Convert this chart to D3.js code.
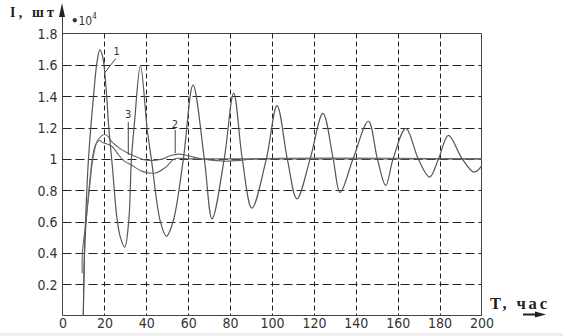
<!DOCTYPE html>
<html>
<head>
<meta charset="utf-8">
<script src="https://cdn.jsdelivr.net/npm/d3@7"></script>
<style>
  html, body { margin: 0; padding: 0; background: #fff; }
  svg { display: block; }
</style>
</head>
<body>
<svg id="chart" width="563" height="336"></svg>
<script>
// ---- data ----
const xTicks = [0, 20, 40, 60, 80, 100, 120, 140, 160, 180, 200];
const yTicks = [0.2, 0.4, 0.6, 0.8, 1.0, 1.2, 1.4, 1.6, 1.8];
const yTickLabels = ["0.2", "0.4", "0.6", "0.8", "1", "1.2", "1.4", "1.6", "1.8"];

// curve 1: strongly oscillating
const curve1T = [9.9, 10.4, 11, 12.4, 14.8, 16.5, 17.8, 19.2, 20.8, 22.1, 23.8, 26, 27.6, 29.7, 31.6, 32.9, 34.3, 37.2, 40.5, 42.4, 46.7, 49.6, 52.8, 57.7, 62.3, 67.7, 71.4, 77.2, 81.7, 85.8, 90.4, 97.3, 102.4, 107.3, 111.9, 118.2, 124.3, 129.2, 132.5, 138.7, 146, 150.3, 154.3, 157.8, 163.9, 169.8, 175.2, 179.5, 184.2, 190.8, 196.5, 200];
const curve1V = [0, 0.35, 0.6, 1.0, 1.4, 1.62, 1.695, 1.65, 1.45, 1.2, 0.95, 0.62, 0.5, 0.436, 0.6, 1.0, 1.22, 1.595, 1.18, 1.0, 0.6, 0.506, 0.6, 1.0, 1.47, 1.0, 0.617, 1.0, 1.42, 1.0, 0.685, 1.0, 1.34, 1.0, 0.745, 1.0, 1.29, 1.0, 0.785, 1.0, 1.24, 1.0, 0.83, 1.0, 1.195, 1.0, 0.883, 1.0, 1.15, 1.0, 0.915, 0.953];

// curve 2: smooth, higher first peak, small hump near 55
const curve2T = [10, 10.4, 11.3, 12.8, 14.5, 16.5, 18.5, 20.2, 22, 23.7, 27, 30, 34.8, 39.6, 44, 48, 51, 55.5, 60, 66, 72, 78, 85, 92, 200];
const curve2V = [0, 0.35, 0.6, 0.8, 1.0, 1.11, 1.145, 1.155, 1.14, 1.106, 1.07, 1.045, 1.015, 0.993, 0.99, 1.0, 1.018, 1.03, 1.02, 1.0, 0.99, 0.985, 0.99, 1.0, 1.0];

// curve 3: smooth, earlier lower peak, dip near 44
const curve3T = [9.4, 9.5, 11.2, 12.6, 14.2, 15.8, 17.7, 19, 21, 23.5, 26, 29, 33.3, 38, 44.4, 49.2, 53.5, 60, 200];
const curve3V = [0.27, 0.4, 0.6, 0.8, 1.0, 1.09, 1.117, 1.105, 1.096, 1.08, 1.04, 0.99, 0.957, 0.92, 0.91, 0.946, 1.0, 1.0, 1.0];

// curve labels: text, label position (T, value), leader start and end (T, value)
const labelNames = ["1", "3", "2"];
const labelT = [25.8, 31.3, 53.6];
const labelV = [1.665, 1.26, 1.2];
const leaderFromT = [25.4, 31.4, 53.8];
const leaderFromV = [1.64, 1.235, 1.185];
const leaderToT = [20.2, 31.4, 53.8];
const leaderToV = [1.55, 1.025, 1.035];

// ---- drawing ----
const svg = d3.select("#chart");
svg.append("rect").attr("width", 563).attr("height", 336).attr("fill", "#fff");
svg.append("rect").attr("x", 0).attr("y", 333).attr("width", 563).attr("height", 3).attr("fill", "#efefef");

const x = d3.scaleLinear().domain([0, 200]).range([62.5, 481.5]);
const y = d3.scaleLinear().domain([0, 1.8]).range([315.5, 33.5]);

const gridColor = "#222";
// horizontal dashed grid
svg.append("g").selectAll("line").data(yTicks.filter(v => v < 1.8)).join("line")
  .attr("x1", x(0)).attr("x2", x(200))
  .attr("y1", d => Math.round(y(d)) + 0.5).attr("y2", d => Math.round(y(d)) + 0.5)
  .attr("stroke", gridColor).attr("stroke-width", 1).attr("stroke-dasharray", "9,4");
// vertical dashed grid
svg.append("g").selectAll("line").data(xTicks.filter(v => v > 0 && v < 200)).join("line")
  .attr("x1", d => Math.round(x(d)) + 0.5).attr("x2", d => Math.round(x(d)) + 0.5)
  .attr("y1", y(1.8)).attr("y2", y(0))
  .attr("stroke", gridColor).attr("stroke-width", 1).attr("stroke-dasharray", "5,3");

// frame: top and right borders
const frameColor = "#444";
svg.append("line").attr("x1", x(0)).attr("x2", x(200)).attr("y1", y(1.8)).attr("y2", y(1.8)).attr("stroke", frameColor);
svg.append("line").attr("x1", x(200)).attr("x2", x(200)).attr("y1", y(1.8)).attr("y2", y(0)).attr("stroke", frameColor);

// axes with d3 axis (ticks hidden; labels only)
const yAxis = d3.axisLeft(y).tickValues(yTicks).tickSize(0).tickPadding(5)
  .tickFormat((d, i) => yTickLabels[i]);
const gy = svg.append("g").attr("transform", `translate(${x(0)},0)`).call(yAxis);
gy.select(".domain").remove();
gy.selectAll("text").attr("font-family", "'DejaVu Sans Condensed', 'DejaVu Sans', sans-serif")
  .attr("font-size", 14).attr("fill", "#333").attr("dy", "0.36em");

const xAxis = d3.axisBottom(x).tickValues(xTicks).tickSize(0).tickPadding(3);
const gx = svg.append("g").attr("transform", `translate(0,${y(0)})`).call(xAxis);
gx.select(".domain").remove();
gx.selectAll("text").attr("font-family", "'DejaVu Sans Condensed', 'DejaVu Sans', sans-serif")
  .attr("font-size", 14).attr("fill", "#333").attr("dy", "0.71em");

// axis lines
svg.append("line").attr("x1", x(0)).attr("x2", x(0)).attr("y1", y(0)).attr("y2", 10).attr("stroke", frameColor);
svg.append("line").attr("x1", x(0)).attr("x2", x(200)).attr("y1", y(0)).attr("y2", y(0)).attr("stroke", frameColor);
// y arrow head
svg.append("path").attr("d", `M${x(0) - 0.5},3 L${x(0) - 3.5},17 L${x(0) + 2.5},17 Z`).attr("fill", "#222");
// x arrow
svg.append("line").attr("x1", 523).attr("x2", 537).attr("y1", y(0) - 1).attr("y2", y(0) - 1).attr("stroke", "#222").attr("stroke-width", 2);
svg.append("path").attr("d", `M546,${y(0) - 1} L535,${y(0) - 4} L535,${y(0) + 2} Z`).attr("fill", "#222");

// curves
const line = d3.line().x(d => x(d[0])).y(d => y(d[1])).curve(d3.curveCatmullRom.alpha(0.5));
const series = [
  { t: curve3T, v: curve3V, color: "#666", w: 1.1 },
  { t: curve2T, v: curve2V, color: "#666", w: 1.1 },
  { t: curve1T, v: curve1V, color: "#555", w: 1.2 }
];
series.forEach(s => {
  svg.append("path").datum(s.t.map((t, i) => [t, s.v[i]]))
    .attr("d", line).attr("fill", "none").attr("stroke", s.color).attr("stroke-width", s.w);
});

// curve labels with leader lines
labelNames.forEach((name, i) => {
  svg.append("line")
    .attr("x1", x(leaderFromT[i])).attr("y1", y(leaderFromV[i]))
    .attr("x2", x(leaderToT[i])).attr("y2", y(leaderToV[i]))
    .attr("stroke", "#444").attr("stroke-width", 1);
  svg.append("text").attr("x", x(labelT[i])).attr("y", y(labelV[i]))
    .attr("text-anchor", "middle")
    .attr("font-family", "'DejaVu Sans Condensed', 'DejaVu Sans', sans-serif")
    .attr("font-size", 11).attr("fill", "#333").text(name);
});

// axis titles
svg.append("text").attr("x", 10).attr("y", 17)
  .attr("font-family", "'Liberation Serif', 'DejaVu Serif', serif").attr("font-weight", "bold")
  .attr("font-size", 14).attr("fill", "#222")
  .attr("textLength", 44).attr("lengthAdjust", "spacing").text("I, шт");
const mult = svg.append("text").attr("x", 71).attr("y", 25)
  .attr("font-family", "'DejaVu Sans Condensed', 'DejaVu Sans', sans-serif")
  .attr("font-size", 12).attr("fill", "#333");
mult.append("tspan").attr("font-size", 13).attr("font-weight", "bold").text("•");
mult.append("tspan").text("10");
mult.append("tspan").attr("font-size", 8).attr("dy", -6).text("4");

svg.append("text").attr("x", 490).attr("y", 309)
  .attr("font-family", "'Liberation Serif', 'DejaVu Serif', serif").attr("font-weight", "bold")
  .attr("font-size", 16.5).attr("fill", "#222")
  .attr("textLength", 57).attr("lengthAdjust", "spacing").text("T, час");
</script>
</body>
</html>
